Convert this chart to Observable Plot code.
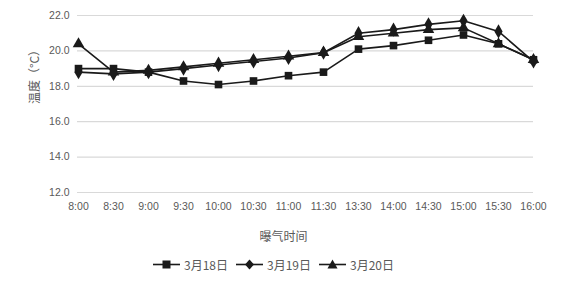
<!DOCTYPE html>
<html>
<head>
<meta charset="utf-8">
<script src="https://cdn.jsdelivr.net/npm/d3@7"></script>
<script src="https://cdn.jsdelivr.net/npm/@observablehq/plot@0.6"></script>
<style>
  body { margin: 0; background: #fff; }
  #wrap { position: relative; width: 577px; height: 281px; font-family: "Liberation Sans", "Noto Sans CJK SC", sans-serif; }
  #legend { position: absolute; left: 153px; top: 255px; height: 18px; display: flex; align-items: center; font-size: 12px; color: #595959; font-family: "Noto Sans CJK SC", sans-serif; }
  #legend .item { display: flex; align-items: center; margin-right: 8px; }
  #legend svg { margin-right: 4px; }
</style>
</head>
<body>
<div id="wrap"><div id="chart"></div><div id="legend"></div></div>
<script>
const times = ["8:00","8:30","9:00","9:30","10:00","10:30","11:00","11:30","13:30","14:00","14:30","15:00","15:30","16:00"];
const seriesNames = ["3月18日","3月19日","3月20日"];
const s18 = [19.0,19.0,18.8,18.3,18.1,18.3,18.6,18.8,20.1,20.3,20.6,20.9,20.4,19.5];
const s19 = [18.8,18.7,18.8,19.0,19.2,19.4,19.6,19.9,21.0,21.2,21.5,21.7,21.1,19.4];
const s20 = [20.4,18.8,18.9,19.1,19.3,19.5,19.7,19.9,20.8,21.0,21.2,21.3,20.4,19.5];
const yTicks = [12,14,16,18,20,22];
const symbols = ["square","diamond","triangle"];

const allSeries = [s18, s19, s20];
const data = [];
allSeries.forEach((vals, si) => vals.forEach((v, i) => data.push({time: times[i], value: v, series: seriesNames[si], symbol: symbols[si]})));

const ink = "#1a1a1a";
const textColor = "#595959";

const chart = Plot.plot({
  width: 577,
  height: 250,
  marginTop: 15,
  marginBottom: 58,
  marginLeft: 77,
  marginRight: 44,
  style: {fontFamily: "'Liberation Sans', 'Noto Sans CJK SC', sans-serif", fontSize: "10.5px", color: textColor, background: "#fff"},
  x: {type: "point", domain: times, padding: 0},
  y: {domain: [12, 22]},
  symbol: {type: "ordinal", domain: symbols, range: ["square","diamond","triangle"]},
  marks: [
    Plot.gridY(yTicks, {stroke: "#d9d9d9", strokeOpacity: 1, strokeWidth: 1.2}),
    Plot.axisY(yTicks, {tickSize: 0, tickPadding: 8, tickFormat: d3.format(".1f"), label: null}),
    Plot.axisX(times, {tickSize: 0, tickPadding: 10, label: null}),
    Plot.line(data, {x: "time", y: "value", z: "series", stroke: ink, strokeWidth: 1.6}),
    Plot.dot(data, {x: "time", y: "value", symbol: "symbol", fill: ink, stroke: "none", r: 4.3}),
    Plot.text(["温度（°C）"], {frameAnchor: "left", rotate: -90, dx: -42, fill: textColor, fontSize: 12, fontFamily: "'Noto Sans CJK SC', sans-serif"}),
    Plot.text(["曝气时间"], {frameAnchor: "bottom", dy: 48, dx: -22, fill: textColor, fontSize: 12, fontFamily: "'Noto Sans CJK SC', sans-serif"})
  ]
});
document.getElementById("chart").appendChild(chart);

// legend
const legend = document.getElementById("legend");
const shapes = {
  square: '<rect x="9.5" y="5.5" width="8" height="8" fill="' + ink + '"/>',
  diamond: '<path d="M13.5 4.5 L18 9.5 L13.5 14.5 L9 9.5 Z" fill="' + ink + '"/>',
  triangle: '<path d="M13.5 4.5 L18.5 13.5 L8.5 13.5 Z" fill="' + ink + '"/>'
};
seriesNames.forEach((name, i) => {
  const item = document.createElement("div");
  item.className = "item";
  item.innerHTML = '<svg width="27" height="19"><line x1="0" x2="27" y1="9.5" y2="9.5" stroke="' + ink + '" stroke-width="1.6"/>' + shapes[symbols[i]] + '</svg><span>' + name + '</span>';
  legend.appendChild(item);
});
</script>
</body>
</html>
